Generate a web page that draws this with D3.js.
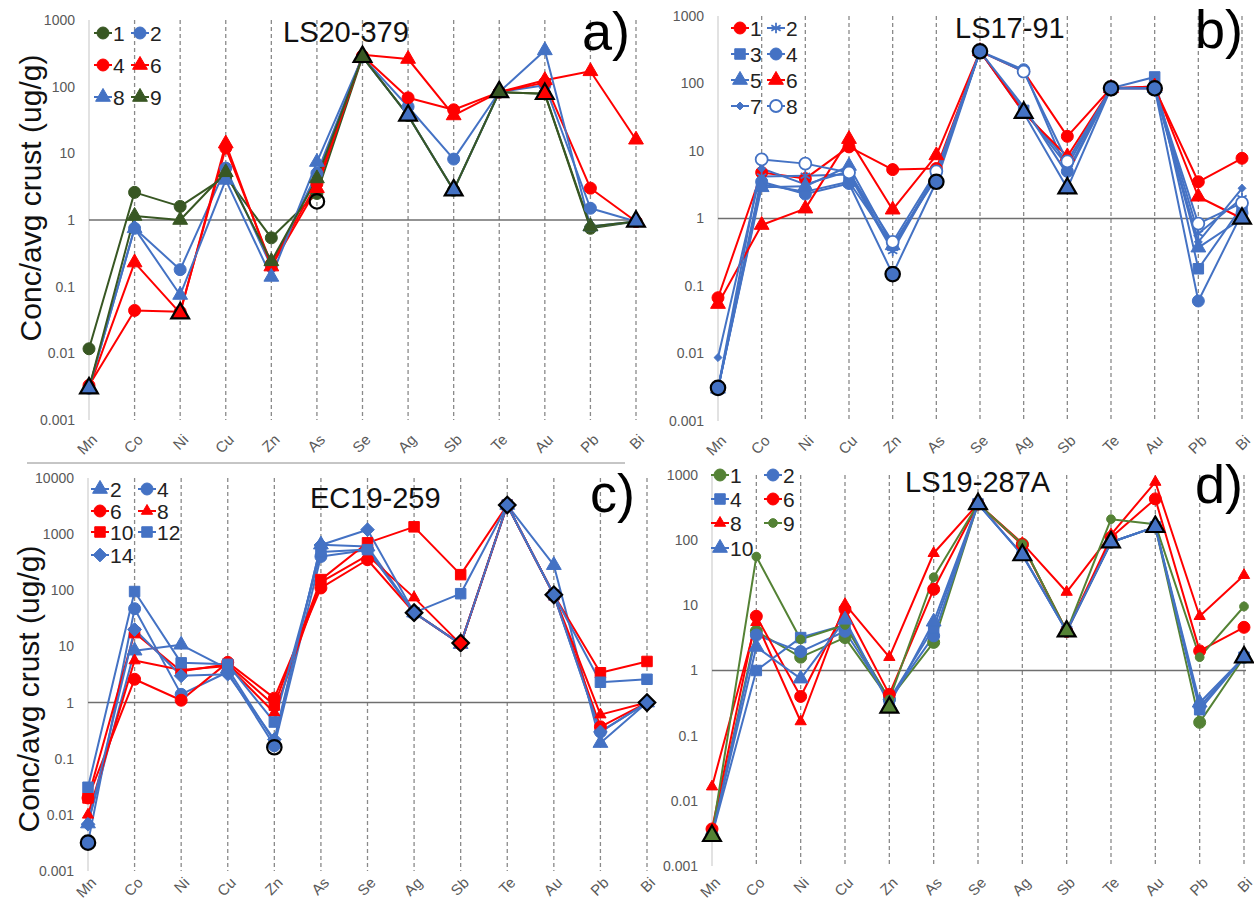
<!DOCTYPE html>
<html>
<head>
<meta charset="utf-8">
<script src="https://cdn.jsdelivr.net/npm/d3@7"></script>
<style>
body { margin: 0; background: #fff; }
text { font-family: "Liberation Sans", Arial, sans-serif; }
</style>
</head>
<body>
<svg width="1254" height="903"></svg>
<script>
const elements = ["Mn","Co","Ni","Cu","Zn","As","Se","Ag","Sb","Te","Au","Pb","Bi"];
const ticks3 = [0.001, 0.01, 0.1, 1, 10, 100, 1000];
const ticks4 = [0.001, 0.01, 0.1, 1, 10, 100, 1000, 10000];

// a) LS20-379
const labelsA = ["1","2","4","6","8","9"];
const valuesA = [
  [0.0117, 2.6, 1.6, 4.5, 0.54, 2.5, 280, 37, 2.8, 83, 78, 0.75, 0.95],
  [0.003, 0.75, 0.18, 6, 0.2, 5, 280, 50, 8.2, 83, 105, 1.5, 0.95],
  [0.0033, 0.044, 0.042, 12, 0.22, 3.5, 290, 68, 45, 83, 115, 3.0, 0.95],
  [0.003, 0.23, 0.04, 14, 0.2, 3, 300, 260, 37, 83, 125, 170, 16],
  [0.003, 0.75, 0.075, 4, 0.14, 7.4, 280, 37, 2.8, 83, 350, 0.8, 0.95],
  [0.003, 1.15, 1.0, 5.2, 0.24, 4.2, 280, 37, 2.8, 83, 78, 0.8, 0.95]
];
const outlinedA = [["Mn",0.003],["Ni",0.04],["As",1.9],["Se",280],["Ag",37],["Sb",2.8],["Te",83],["Au",78],["Bi",0.95]];

// b) LS17-91
const labelsB = ["1","2","3","4","5","6","7","8"];
const valuesB = [
  [0.067, 4.8, 3.9, 11.5, 5.3, 5.5, 300, 150, 16.5, 85, 85, 3.5, 7.8],
  [0.003, 4.2, 4.3, 4.5, 0.33, 4.5, 300, 40, 6, 85, 90, 0.6, 2.0],
  [0.003, 3.2, 2.5, 3.5, 0.4, 4, 300, 40, 7, 85, 125, 0.18, 1.5],
  [0.003, 3.5, 2.3, 3.3, 0.15, 3.5, 300, 160, 5, 85, 85, 0.06, 1.2],
  [0.003, 2.9, 3.0, 6, 0.4, 4.2, 300, 37, 2.8, 85, 85, 0.37, 1.0],
  [0.054, 0.8, 1.4, 15, 1.35, 8.6, 300, 37, 8.3, 85, 90, 2.1, 1.0],
  [0.0087, 5.5, 3.2, 5, 0.35, 4.8, 300, 45, 4.5, 85, 85, 0.45, 2.8],
  [0.003, 7.5, 6.5, 4.8, 0.45, 5, 300, 150, 7, 85, 85, 0.84, 1.7]
];
const outlinedB = [["Mn",0.0031],["Zn",0.15],["As",3.5],["Se",300],["Ag",37],["Sb",2.8],["Te",85],["Au",85],["Bi",1.0]];

// c) EC19-259
const labelsC = ["2","4","6","8","10","12","14"];
const valuesC = [
  [0.007, 8.4, 10.7, 4, 0.2, 650, 600, 40, 11, 3300, 280, 0.19, 1.0],
  [0.0032, 47, 1.4, 3.5, 0.17, 400, 520, 40, 11, 3300, 83, 0.3, 1.0],
  [0.02, 2.6, 1.1, 5.2, 1.2, 110, 350, 40, 11, 3300, 83, 0.37, 1.0],
  [0.01, 5.6, 3.8, 4.5, 0.66, 140, 420, 74, 11, 3300, 83, 0.61, 1.0],
  [0.02, 17.6, 3.6, 4.8, 0.9, 155, 700, 1350, 190, 3300, 83, 3.4, 5.4],
  [0.031, 95, 5.1, 4.8, 0.45, 480, 530, 40, 87, 3300, 83, 2.3, 2.6],
  [0.0068, 20, 3.0, 3.2, 0.22, 640, 1200, 40, 11, 3300, 83, 0.3, 1.0]
];
const outlinedC = [["Mn",0.0032],["Zn",0.16],["Ag",40],["Sb",11.5],["Te",3300],["Au",83],["Bi",1.0]];

// d) LS19-287A
const labelsD = ["1","2","4","6","8","9","10"];
const valuesD = [
  [0.003, 4, 1.6, 3.2, 0.36, 2.7, 360, 87, 4, 93, 160, 0.16, 1.6],
  [0.003, 3.5, 1.95, 4, 0.36, 3.4, 360, 60, 4, 93, 160, 0.28, 1.6],
  [0.003, 1.0, 3.2, 5, 0.36, 4.5, 360, 60, 4, 93, 160, 0.25, 1.6],
  [0.0037, 6.8, 0.4, 8.7, 0.43, 17.6, 360, 85, 4, 110, 430, 2.0, 4.6],
  [0.0165, 5.5, 0.165, 10.4, 1.6, 63, 360, 90, 16, 122, 780, 6.8, 29],
  [0.003, 56, 3.0, 5, 0.36, 27, 360, 87, 4, 210, 175, 1.6, 9.6],
  [0.003, 2.3, 0.75, 6, 0.3, 5.6, 360, 59, 4, 93, 160, 0.32, 1.6]
];
const outlinedD = [["Mn",0.0029],["Zn",0.27],["Se",360],["Ag",59],["Sb",4],["Te",93],["Au",160],["Bi",1.6]];

// styles
const RED = "#ff0000", BLUE = "#4472c4", DKGREEN = "#385723", GREEN = "#548235";

const styleA = [
  {c: DKGREEN, s: "circle"}, {c: BLUE, s: "circle"}, {c: RED, s: "circle"},
  {c: RED, s: "triangle"}, {c: BLUE, s: "triangle"}, {c: DKGREEN, s: "triangle"}
];
const outStyleA = [["triangle",BLUE],["triangle",RED],["circle","none"],["triangle",DKGREEN],["triangle",BLUE],
  ["triangle",BLUE],["triangle",DKGREEN],["triangle",RED],["triangle",BLUE]];

const styleB = [
  {c: RED, s: "circle"}, {c: BLUE, s: "asterisk"}, {c: BLUE, s: "square"}, {c: BLUE, s: "circle"},
  {c: BLUE, s: "triangle"}, {c: RED, s: "triangle"}, {c: BLUE, s: "diamond", small: true}, {c: BLUE, s: "circle", open: true}
];
const outStyleB = [["circle",BLUE],["circle",BLUE],["circle",BLUE],["circle",BLUE],["triangle",BLUE],
  ["triangle",BLUE],["circle",BLUE],["circle",BLUE],["triangle",BLUE]];

const styleC = [
  {c: BLUE, s: "triangle"}, {c: BLUE, s: "circle"}, {c: RED, s: "circle"}, {c: RED, s: "triangle", small: true},
  {c: RED, s: "square"}, {c: BLUE, s: "square"}, {c: BLUE, s: "diamond"}
];
const outStyleC = [["circle",BLUE],["circle","none"],["diamond",BLUE],["diamond",RED],["diamond",BLUE],["diamond",BLUE],["diamond",BLUE]];

const styleD = [
  {c: GREEN, s: "circle"}, {c: BLUE, s: "circle"}, {c: BLUE, s: "square"}, {c: RED, s: "circle"},
  {c: RED, s: "triangle", small: true}, {c: GREEN, s: "circle", small: true}, {c: BLUE, s: "triangle"}
];
const outStyleD = [["triangle",GREEN],["triangle",GREEN],["triangle",BLUE],["triangle",BLUE],["triangle",GREEN],
  ["triangle",BLUE],["triangle",BLUE],["triangle",BLUE]];

const panels = [
  {labels: labelsA, values: valuesA, outlined: outlinedA, style: styleA, outStyle: outStyleA, ticks: ticks3,
   x0: 89, x1: 636, yTop: 20, yBot: 420, title: "LS20-379", tx: 283, ty: 42, tag: "a)", gx: 582, gy: 50,
   yTitle: true, ytx: 30, yty: 198, leg: {cx: [103, 140], rows: [33, 65, 97]}},
  {labels: labelsB, values: valuesB, outlined: outlinedB, style: styleB, outStyle: outStyleB, ticks: ticks3,
   x0: 718, x1: 1242, yTop: 16, yBot: 421, title: "LS17-91", tx: 955, ty: 38, tag: "b)", gx: 1195, gy: 48,
   yTitle: false, leg: {cx: [740, 776], rows: [28, 54, 80, 106]}},
  {labels: labelsC, values: valuesC, outlined: outlinedC, style: styleC, outStyle: outStyleC, ticks: ticks4,
   x0: 88, x1: 647, yTop: 478, yBot: 871, title: "EC19-259", tx: 310, ty: 508, tag: "c)", gx: 590, gy: 512,
   yTitle: true, ytx: 28, yty: 689, leg: {cx: [100, 147], rows: [489, 511, 532, 555]}},
  {labels: labelsD, values: valuesD, outlined: outlinedD, style: styleD, outStyle: outStyleD, ticks: ticks3,
   x0: 712, x1: 1244, yTop: 475, yBot: 866, title: "LS19-287A", tx: 905, ty: 492, tag: "d)", gx: 1195, gy: 503,
   yTitle: false, leg: {cx: [720, 773], rows: [475, 499, 523, 548]}}
];

const svg = d3.select("svg");

// separator above panel c
svg.append("line").attr("x1", 27).attr("x2", 625).attr("y1", 463).attr("y2", 463)
  .attr("stroke", "#8c8c8c").attr("stroke-width", 1);

function symPath(shape, small, big) {
  let type, size;
  if (shape === "circle") { type = d3.symbolCircle; size = small ? 60 : 113; }
  else if (shape === "triangle") { type = d3.symbolTriangle; size = small ? 55 : 95; }
  else if (shape === "square") { type = d3.symbolSquare; size = 110; }
  else if (shape === "diamond") { type = d3.symbolDiamond2 || d3.symbolSquare; size = small ? 40 : 120; }
  else { type = d3.symbolAsterisk || d3.symbolCross; size = 80; }
  if (big) size *= 1.45;
  return d3.symbol().type(type).size(size)();
}
function symRot(shape) {
  return (shape === "diamond" && !d3.symbolDiamond2) ? " rotate(45)" : "";
}

function drawMarker(g, x, y, st, color) {
  const open = st.open || st.s === "asterisk";
  g.append("path")
    .attr("d", symPath(st.s, st.small, false))
    .attr("transform", "translate(" + x + "," + y + ")" + symRot(st.s))
    .attr("fill", open ? (st.open ? "#fff" : "none") : color)
    .attr("stroke", color)
    .attr("stroke-width", open ? 1.8 : 1);
}

panels.forEach(p => {
  const x = d3.scalePoint().domain(elements).range([p.x0, p.x1]);
  const y = d3.scaleLog().domain([0.001, p.ticks[p.ticks.length - 1]]).range([p.yBot, p.yTop]);
  const g = svg.append("g");

  // verticals
  elements.forEach((el, i) => {
    g.append("line").attr("x1", x(el)).attr("x2", x(el)).attr("y1", p.yTop).attr("y2", p.yBot)
      .attr("stroke", i === 0 ? "#d9d9d9" : "#8a8a8a")
      .attr("stroke-width", i === 0 ? 1.5 : 1.3)
      .attr("stroke-dasharray", i === 0 ? null : "4,3");
  });
  // line at 1
  g.append("line").attr("x1", p.x0).attr("x2", p.x1 + 2).attr("y1", y(1)).attr("y2", y(1))
    .attr("stroke", "#6f6f6f").attr("stroke-width", 1.5);

  // axes
  const ya = g.append("g").attr("transform", "translate(" + p.x0 + ",0)")
    .call(d3.axisLeft(y).tickValues(p.ticks).tickSize(0).tickPadding(14)
      .tickFormat(d => d >= 1 ? d3.format("d")(d) : String(d)));
  ya.select(".domain").remove();
  ya.selectAll("text").attr("font-size", 14).attr("fill", "#595959")
    .attr("font-family", "Liberation Sans, Arial, sans-serif");

  const lblOff = Math.min(17, 880 - p.yBot);
  const xa = g.append("g").attr("transform", "translate(0," + p.yBot + ")")
    .call(d3.axisBottom(x).tickSize(0).tickPadding(0));
  xa.select(".domain").remove();
  xa.selectAll("text").attr("font-size", 15).attr("fill", "#595959")
    .attr("font-family", "Liberation Sans, Arial, sans-serif")
    .attr("text-anchor", "end").attr("dy", "0.35em")
    .attr("transform", "translate(5," + lblOff + ") rotate(-45)");

  // series
  const line = d3.line().x((d, i) => x(elements[i])).y(d => y(d));
  p.values.forEach((vals, k) => {
    const st = p.style[k];
    g.append("path").attr("d", line(vals)).attr("fill", "none")
      .attr("stroke", st.c).attr("stroke-width", 2).attr("stroke-linejoin", "round");
  });
  p.values.forEach((vals, k) => {
    const st = p.style[k];
    vals.forEach((v, i) => drawMarker(g, x(elements[i]), y(v), st, st.c));
  });

  // outlined markers
  p.outlined.forEach((o, i) => {
    const [shape, fill] = p.outStyle[i];
    g.append("path")
      .attr("d", symPath(shape, false, true))
      .attr("transform", "translate(" + x(o[0]) + "," + y(o[1]) + ")" + symRot(shape))
      .attr("fill", fill === "none" ? "none" : fill)
      .attr("stroke", "#000").attr("stroke-width", 2.2);
  });

  // legend
  p.labels.forEach((lab, k) => {
    const col = k % 2, row = Math.floor(k / 2);
    const cx = p.leg.cx[col], cy = p.leg.rows[row], st = p.style[k];
    g.append("line").attr("x1", cx - 9).attr("x2", cx + 9).attr("y1", cy).attr("y2", cy)
      .attr("stroke", st.c).attr("stroke-width", 2);
    drawMarker(g, cx, cy, st, st.c);
    g.append("text").attr("x", cx + 10).attr("y", cy).attr("dy", "0.36em")
      .attr("font-size", 21).attr("fill", "#222").text(lab);
  });

  // titles
  g.append("text").attr("x", p.tx).attr("y", p.ty).attr("font-size", 29).attr("fill", "#111").text(p.title);
  g.append("text").attr("x", p.gx).attr("y", p.gy).attr("font-size", 54).attr("fill", "#000").text(p.tag);
  if (p.yTitle) {
    g.append("text").attr("transform", "translate(" + p.ytx + "," + p.yty + ") rotate(-90)")
      .attr("text-anchor", "middle").attr("dy", "0.35em")
      .attr("font-size", 30).attr("fill", "#111").text("Conc/avg crust (ug/g)");
  }
});
</script>
</body>
</html>
